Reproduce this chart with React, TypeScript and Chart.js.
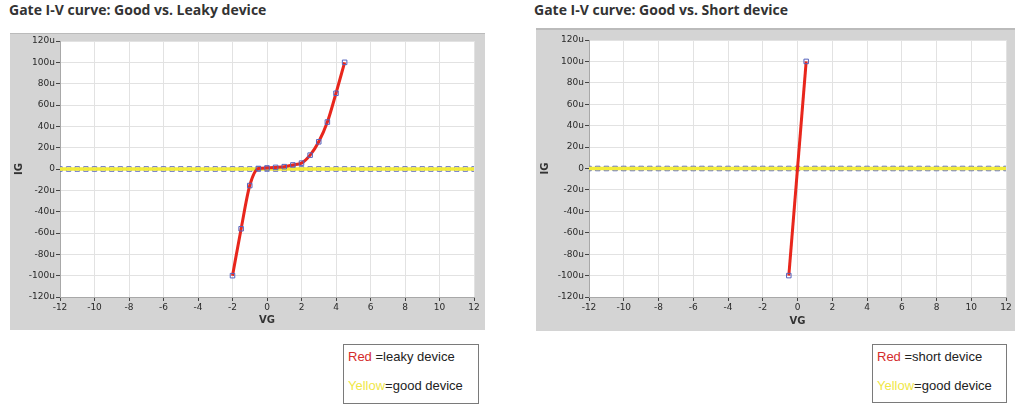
import React, { useEffect, useRef } from "react";
import { Chart, registerables } from "chart.js";

Chart.register(...registerables);

// ---------- data ----------
const leakyVG = [-2, -1.5, -1, -0.5, 0, 0.5, 1, 1.5, 2, 2.5, 3, 3.5, 4, 4.5];
const leakyIG = [-100, -56, -15.5, 0.5, 1, 1.5, 2.2, 3.8, 5.5, 13, 25.5, 44, 71, 100];

const shortVG = [-0.5, 0.5];
const shortIG = [-100, 100];

const goodVG = [
  -12, -11.5, -11, -10.5, -10, -9.5, -9, -8.5, -8, -7.5, -7, -6.5, -6, -5.5, -5, -4.5, -4, -3.5,
  -3, -2.5, -2, -1.5, -1, -0.5, 0, 0.5, 1, 1.5, 2, 2.5, 3, 3.5, 4, 4.5, 5, 5.5, 6, 6.5, 7, 7.5,
  8, 8.5, 9, 9.5, 10, 10.5, 11, 11.5, 12,
];
const goodIG = [
  0, 0, 0, 0, 0, 0, 0, 0, 0, 0, 0, 0, 0, 0, 0, 0, 0, 0, 0, 0, 0, 0, 0, 0, 0, 0, 0, 0, 0, 0, 0, 0,
  0, 0, 0, 0, 0, 0, 0, 0, 0, 0, 0, 0, 0, 0, 0, 0, 0,
];

const xTicks = [-12, -10, -8, -6, -4, -2, 0, 2, 4, 6, 8, 10, 12];
const yTicks = [-120, -100, -80, -60, -40, -20, 0, 20, 40, 60, 80, 100, 120];

const RED = "#e8261c";
const YELLOW = "#f3ec3a";
const BLUE = "#5563bd";

const toPts = (xs: number[], ys: number[]) => xs.map((x, i) => ({ x, y: ys[i] }));

const whiteArea = {
  id: "whiteArea",
  beforeDraw(chart: any) {
    const { ctx, chartArea } = chart;
    ctx.save();
    ctx.fillStyle = "#ffffff";
    ctx.fillRect(chartArea.left, chartArea.top, chartArea.right - chartArea.left, chartArea.bottom - chartArea.top);
    ctx.restore();
  },
};

type PanelProps = {
  width: number;
  height: number;
  yAxisWidth: number;
  xAxisHeight: number;
  padTop: number;
  padRight: number;
  badVG: number[];
  badIG: number[];
  smooth: boolean;
};

function IVChart(p: PanelProps) {
  const ref = useRef<HTMLCanvasElement | null>(null);
  useEffect(() => {
    if (!ref.current) return;
    const tickFont = { family: "'DejaVu Sans', sans-serif", size: 9 };
    const chart = new Chart(ref.current, {
      type: "scatter",
      data: {
        datasets: [
          {
            label: "bad",
            data: toPts(p.badVG, p.badIG),
            showLine: true,
            borderColor: RED,
            borderWidth: 3,
            tension: p.smooth ? 0.4 : 0,
            cubicInterpolationMode: p.smooth ? "monotone" : "default",
            pointStyle: "rect",
            pointRadius: 3.2,
            pointBorderWidth: 1,
            pointBorderColor: BLUE,
            pointBackgroundColor: "rgba(255,255,255,0)",
            order: 0,
          } as any,
          {
            label: "good line",
            data: toPts(goodVG, goodIG),
            showLine: true,
            borderColor: YELLOW,
            borderWidth: 3.5,
            pointRadius: 0,
            order: 1,
          },
          {
            label: "good points",
            data: toPts(goodVG, goodIG),
            showLine: false,
            pointStyle: "rect",
            pointRadius: 3.2,
            pointBorderWidth: 1,
            pointBorderColor: BLUE,
            pointBackgroundColor: "rgba(255,255,255,0)",
            order: 2,
          },
        ],
      },
      options: {
        animation: false,
        responsive: false,
        events: [],
        layout: { padding: { top: p.padTop, right: p.padRight, left: 0, bottom: 0 } },
        plugins: { legend: { display: false }, tooltip: { enabled: false } },
        scales: {
          x: {
            type: "linear",
            min: -12,
            max: 12,
            afterFit: (s: any) => {
              s.height = p.xAxisHeight;
            },
            afterBuildTicks: (s: any) => {
              s.ticks = xTicks.map((v) => ({ value: v }));
            },
            ticks: { font: tickFont, color: "#2a2a2a", padding: 1, maxRotation: 0, autoSkip: false },
            grid: { color: "#e2e2e2", tickColor: "#444", tickLength: 4 },
            border: { color: "#a8a8a8" },
            title: {
              display: true,
              text: "VG",
              color: "#333",
              font: { family: "'DejaVu Sans', sans-serif", size: 10, weight: "bold" },
              padding: { top: 0, bottom: 4 },
            },
          },
          y: {
            type: "linear",
            min: -120,
            max: 120,
            afterFit: (s: any) => {
              s.width = p.yAxisWidth;
            },
            afterBuildTicks: (s: any) => {
              s.ticks = yTicks.map((v) => ({ value: v }));
            },
            ticks: {
              font: tickFont,
              color: "#2a2a2a",
              padding: 1,
              autoSkip: false,
              callback: (v: any) => (v === 0 ? "0" : `${v}u`),
            },
            grid: { color: "#e2e2e2", tickColor: "#444", tickLength: 4 },
            border: { color: "#a8a8a8" },
            title: {
              display: true,
              text: "IG",
              color: "#333",
              font: { family: "'DejaVu Sans', sans-serif", size: 10, weight: "bold" },
              padding: { top: 3, bottom: 0 },
            },
          },
        },
      } as any,
      plugins: [whiteArea],
    });
    return () => chart.destroy();
  }, []);
  return <canvas ref={ref} width={p.width} height={p.height} style={{ display: "block" }} />;
}

const titleStyle: React.CSSProperties = {
  position: "absolute",
  fontFamily: "'Open Sans', sans-serif",
  fontWeight: 700,
  fontSize: 14,
  color: "#333",
  whiteSpace: "nowrap",
  lineHeight: "18px",
};

const legendStyle: React.CSSProperties = {
  position: "absolute",
  border: "1px solid #7a7a7a",
  boxSizing: "border-box",
  fontFamily: "'Liberation Sans', Arial, sans-serif",
  fontSize: 13,
  color: "#222",
  background: "#fff",
};

function Legend(props: { left: number; top: number; width: number; height: number; bad: string }) {
  return (
    <div style={{ ...legendStyle, left: props.left, top: props.top, width: props.width, height: props.height }}>
      <div style={{ position: "absolute", left: 4, top: 4, lineHeight: "16px", whiteSpace: "nowrap" }}>
        <span style={{ color: "#d42c2c" }}>Red</span> ={props.bad}
      </div>
      <div style={{ position: "absolute", left: 4, top: 33, lineHeight: "16px", whiteSpace: "nowrap" }}>
        <span style={{ color: "#f0e748" }}>Yellow</span>=good device
      </div>
    </div>
  );
}

export default function App() {
  return (
    <div style={{ position: "absolute", left: 0, top: 0, width: 1024, height: 413, background: "#fff", overflow: "hidden" }}>
      <div style={{ ...titleStyle, left: 9, top: 1 }}>Gate I-V curve: Good vs. Leaky device</div>
      <div style={{ position: "absolute", left: 10, top: 33, width: 475, height: 297, background: "#d4d4d4", borderTop: "1px solid #bbb", boxSizing: "border-box" }}>
        <div style={{ position: "absolute", left: 0, top: -1 }}>
          <IVChart width={475} height={297} yAxisWidth={50} xAxisHeight={33} padTop={8} padRight={11} badVG={leakyVG} badIG={leakyIG} smooth={true} />
        </div>
      </div>
      <Legend left={343} top={344} width={136} height={60} bad="leaky device" />

      <div style={{ ...titleStyle, left: 534, top: 1 }}>Gate I-V curve: Good vs. Short device</div>
      <div style={{ position: "absolute", left: 536, top: 28, width: 479, height: 303, background: "#d4d4d4", borderTop: "2px solid #bbb", boxSizing: "border-box" }}>
        <div style={{ position: "absolute", left: 0, top: -2 }}>
          <IVChart width={479} height={303} yAxisWidth={53} xAxisHeight={34} padTop={12} padRight={9} badVG={shortVG} badIG={shortIG} smooth={false} />
        </div>
      </div>
      <Legend left={872} top={344} width={135} height={59} bad="short device" />
    </div>
  );
}
